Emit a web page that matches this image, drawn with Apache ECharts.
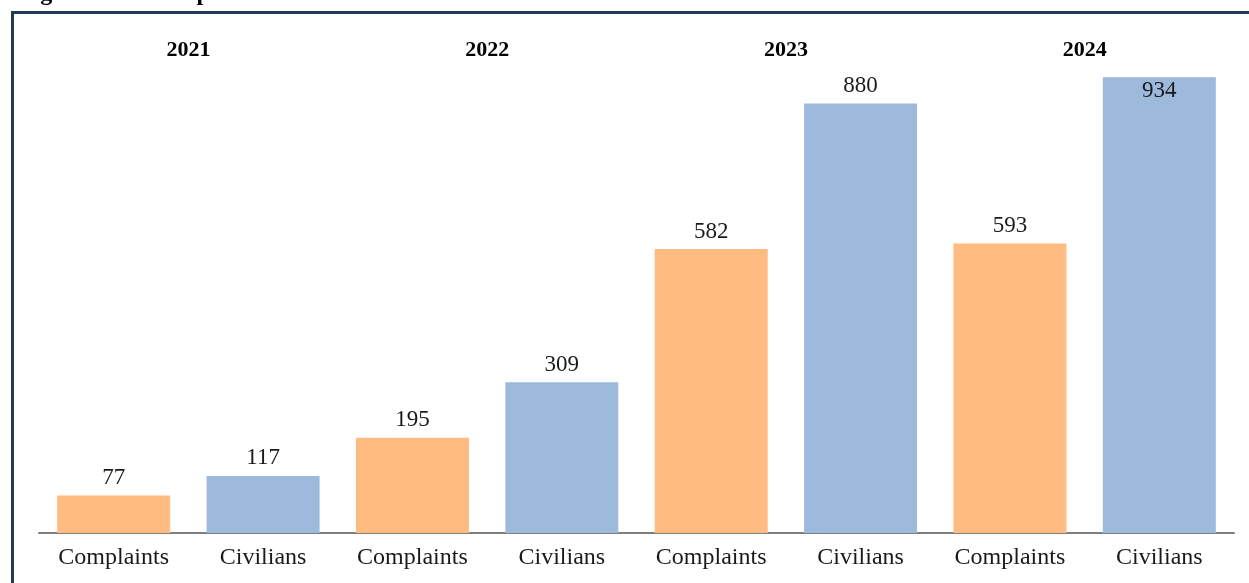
<!DOCTYPE html>
<html>
<head>
<meta charset="utf-8">
<script src="https://cdn.jsdelivr.net/npm/echarts@6/dist/echarts.min.js"></script>
<style>
  html, body { margin: 0; padding: 0; background: #fff; }
  #chart { width: 1249px; height: 583px; }
</style>
</head>
<body>
<div id="chart"></div>
<script>
// bar categories (bottom axis) and year groups (top labels)
const categories = ['Complaints', 'Civilians', 'Complaints', 'Civilians', 'Complaints', 'Civilians', 'Complaints', 'Civilians'];
const years = ['2021', '2022', '2023', '2024'];
const values = [77, 117, 195, 309, 582, 880, 593, 934];
const barColors = ['#FFBB80', '#9DB9DC'];

const chart = echarts.init(document.getElementById('chart'), null, { renderer: 'canvas' });

const serif = '"Liberation Serif", "DejaVu Serif", serif';

chart.setOption({
    backgroundColor: '#fff',
    animation: false,
    grid: { left: 39, right: 15, top: 45, bottom: 50, containLabel: false },
    graphic: [
        // frame of the figure box
        {
            type: 'polyline',
            shape: { points: [[12.5, 600], [12.5, 12.5], [1260, 12.5]] },
            style: { stroke: '#233a56', lineWidth: 3, fill: null }
        },
        // white strip to hide the axis line stub left of the bars
        // cut-off figure title
        {
            type: 'text',
            left: 19,
            top: -18,
            style: { text: 'Figure 11.2: Complaints and Civilians Involved', font: 'bold 24px ' + serif, fill: '#000' }
        }
    ],
    xAxis: [
        {
            type: 'category',
            data: categories,
            position: 'bottom',
            axisLine: { show: true, lineStyle: { color: '#7f7f7f', width: 2 } },
            axisTick: { show: false },
            axisLabel: { color: '#1a1a1a', fontSize: 24, fontFamily: serif, margin: 13 }
        },
        {
            type: 'category',
            data: years,
            position: 'top',
            axisLine: { show: false },
            axisTick: { show: false },
            axisLabel: { color: '#000', fontSize: 22, fontWeight: 'bold', fontFamily: serif, margin: -5, verticalAlign: 'middle' }
        }
    ],
    yAxis: {
        type: 'value',
        min: 0,
        max: 1000,
        show: false,
        splitLine: { show: false }
    },
    series: [{
        type: 'bar',
        xAxisIndex: 0,
        barWidth: 113,
        z: 1,
        data: values.map((v, i) => ({
            value: v,
            itemStyle: { color: barColors[i % 2] },
            label: i === values.length - 1 ? { position: 'insideTop', distance: 2 } : undefined
        })),
        label: {
            show: true,
            position: 'top',
            distance: 6,
            color: '#1a1a1a',
            fontSize: 23,
            fontFamily: serif
        }
    }]
});
</script>
</body>
</html>
